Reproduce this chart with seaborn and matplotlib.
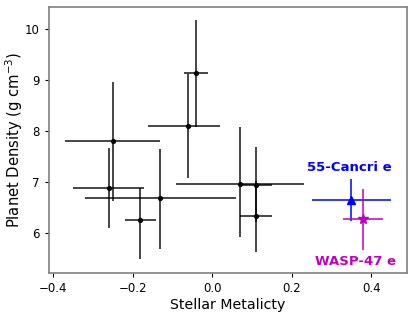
import matplotlib
matplotlib.use("Agg")
import matplotlib.pyplot as plt
import seaborn as sns
import numpy as np
import pandas as pd

# Sample planets
metal = [-0.25, -0.26, -0.18, -0.13, -0.06, -0.04, 0.07, 0.11, 0.11]
metal_lo = [0.12, 0.09, 0.04, 0.19, 0.10, 0.03, 0.16, 0.04, 0.04]
metal_hi = [0.12, 0.09, 0.04, 0.19, 0.08, 0.03, 0.16, 0.04, 0.04]
dens = [7.80, 6.88, 6.26, 6.68, 8.10, 9.13, 6.97, 6.95, 6.33]
dens_lo = [1.17, 0.78, 0.77, 0.99, 1.03, 1.05, 1.05, 0.73, 0.70]
dens_hi = [1.15, 0.78, 0.63, 0.97, 1.02, 1.05, 1.10, 0.73, 0.70]

# Highlighted planets
cnc_x, cnc_xerr = 0.35, 0.10
cnc_y, cnc_yerr = 6.65, 0.41
wasp_x, wasp_xerr = 0.38, 0.05
wasp_y, wasp_yerr = 6.27, 0.59

sns.set_style("white")
plt.rcParams["text.color"] = "black"
plt.rcParams["axes.labelcolor"] = "black"
plt.rcParams["xtick.color"] = "black"
plt.rcParams["ytick.color"] = "black"
fig = plt.figure(figsize=(4.15, 3.12), dpi=100)
ax = fig.add_axes([0.118, 0.125, 0.863, 0.853])

df = pd.DataFrame({"metal": metal, "dens": dens})
ax.errorbar(metal, dens, xerr=[metal_lo, metal_hi], yerr=[dens_lo, dens_hi],
            fmt="none", ecolor="black", elinewidth=1.2, alpha=0.85, zorder=2)
sns.scatterplot(data=df, x="metal", y="dens", color="black", s=14,
                edgecolor="black", linewidth=0, ax=ax, zorder=3)

ax.errorbar([cnc_x], [cnc_y], xerr=[cnc_xerr], yerr=[cnc_yerr], fmt="^",
            color="blue", ms=6, elinewidth=1.1, zorder=4)
ax.errorbar([wasp_x], [wasp_y], xerr=[wasp_xerr], yerr=[wasp_yerr], fmt="*",
            color="m", ms=7, elinewidth=1.1, zorder=4)

ax.text(0.345, 7.28, "55-Cancri e", color="blue", fontweight="bold",
        fontsize=9.5, ha="center", va="center")
ax.text(0.36, 5.44, "WASP-47 e", color="m", fontweight="bold",
        fontsize=9.5, ha="center", va="center")

ax.set_xlim(-0.41, 0.49)
ax.set_ylim(5.22, 10.43)
ax.set_xticks([-0.4, -0.2, 0.0, 0.2, 0.4])
ax.set_yticks([6, 7, 8, 9, 10])
ax.tick_params(axis="both", labelsize=8.5, length=3, direction="out",
               bottom=True, left=True, color="black", labelcolor="black")
for s in ax.spines.values():
    s.set_color("gray")
    s.set_linewidth(1.2)
ax.set_xlabel("Stellar Metalicty", fontsize=10.2, labelpad=2)
ax.set_ylabel("Planet Density (g cm$^{-3}$)", fontsize=10.6)
ax.yaxis.set_label_coords(-0.066, 0.5)

fig.savefig("out.png", dpi=100)
